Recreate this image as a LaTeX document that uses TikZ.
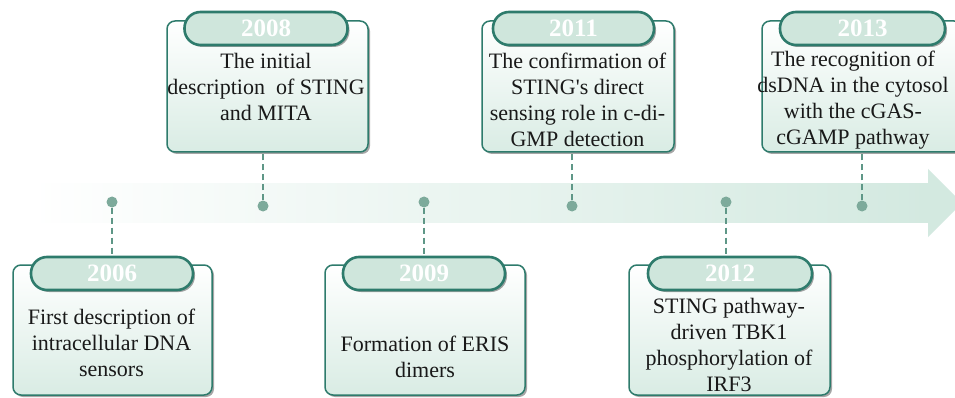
\documentclass[tikz,border=0pt]{standalone}
\usepackage{fontspec}
\setmainfont{Liberation Serif}
\usetikzlibrary{shadows}
\definecolor{boxc}{HTML}{2E7B6C}
\definecolor{pillfill}{HTML}{CFE6DC}
\definecolor{boxbot}{HTML}{D9ECE4}
\definecolor{dotc}{HTML}{7DAA9B}
\definecolor{bandc}{HTML}{D3E9E0}
\definecolor{dashc}{HTML}{5F9787}
\tikzset{
  evbox/.style={draw=boxc, line width=1.5pt, rounded corners=8pt, top color=white, bottom color=boxbot,
    drop shadow={shadow xshift=2pt, shadow yshift=-2pt, fill=black, opacity=0.35}, inner sep=0pt},
  pill/.style={draw=boxc, line width=2.6pt, rounded corners=16pt, fill=pillfill,
    drop shadow={shadow xshift=2pt, shadow yshift=-2pt, fill=black, opacity=0.35},
    text=white, font=\fontsize{25}{28}\selectfont\bfseries, inner sep=0pt},
  evtext/.style={align=center, font=\fontsize{22}{26}\selectfont, text=black!90, inner sep=0pt},
  evdot/.style={circle, fill=dotc, minimum size=11pt, inner sep=0pt},
  conn/.style={draw=dashc, line width=1.3pt, dash pattern=on 6pt off 4pt}
}
\begin{document}
\begin{tikzpicture}[x=1pt, y=-1pt]
\useasboundingbox (0,0) rectangle (955,398);
\fill[white] (0,0) rectangle (955,398);
% band
\shade[left color=white, right color=bandc, shading angle=90] (30,184) rectangle (929,222);
\fill[bandc] (928,169) -- (962,203) -- (928,237) -- cycle;
% dots
\node[evdot] (d2006) at (112,202) {};
\node[evdot] (d2008) at (263,206) {};
\node[evdot] (d2009) at (424,202) {};
\node[evdot] (d2011) at (572,206) {};
\node[evdot] (d2012) at (726,202) {};
\node[evdot] (d2013) at (862,206) {};
% top boxes
\node[evbox, minimum width=201pt, minimum height=131pt] (b2008) at (267.5,86.5) {};
\node[pill, minimum width=163pt, minimum height=33pt] (p2008) at (266,28.5) {2008};
\node[evtext] (t2008) at (266,87) {The initial\\description\ \ of STING\\and MITA};
\node[evbox, minimum width=192pt, minimum height=131pt] (b2011) at (578,86.5) {};
\node[pill, minimum width=161pt, minimum height=33pt] (p2011) at (573.5,28.5) {2011};
\node[evtext] (t2011) at (577.5,100) {The confirmation of\\STING\textquotesingle s direct\\sensing role in c-di-\\GMP detection};
\node[evbox, minimum width=200pt, minimum height=131pt] (b2013) at (862,86.5) {};
\node[pill, minimum width=165pt, minimum height=33pt] (p2013) at (862.5,28.5) {2013};
\node[evtext] (t2013) at (853,100) {The recognition of\\dsDNA in the cytosol\\with the cGAS-\\cGAMP pathway};
% bottom boxes
\node[evbox, minimum width=199pt, minimum height=130pt] (b2006) at (112.5,330) {};
\node[pill, minimum width=162pt, minimum height=33pt] (p2006) at (112,273.5) {2006};
\node[evtext] (t2006) at (111.5,343) {First description of\\intracellular DNA\\sensors};
\node[evbox, minimum width=200pt, minimum height=130pt] (b2009) at (425,330) {};
\node[pill, minimum width=162pt, minimum height=33pt] (p2009) at (424,273.5) {2009};
\node[evtext] (t2009) at (425,357) {Formation of ERIS\\dimers};
\node[evbox, minimum width=201pt, minimum height=130pt] (b2012) at (729.5,330) {};
\node[pill, minimum width=164pt, minimum height=33pt] (p2012) at (730,273.5) {2012};
\node[evtext] (t2012) at (729,345) {STING pathway-\\driven TBK1\\phosphorylation of\\IRF3};
% connectors
\draw[conn] (d2008) -- (d2008 |- b2008.south);
\draw[conn] (d2011) -- (d2011 |- b2011.south);
\draw[conn] (d2013) -- (d2013 |- b2013.south);
\draw[conn] (d2006) -- (d2006 |- p2006.north);
\draw[conn] (d2009) -- (d2009 |- p2009.north);
\draw[conn] (d2012) -- (d2012 |- p2012.north);
\end{tikzpicture}
\end{document}
